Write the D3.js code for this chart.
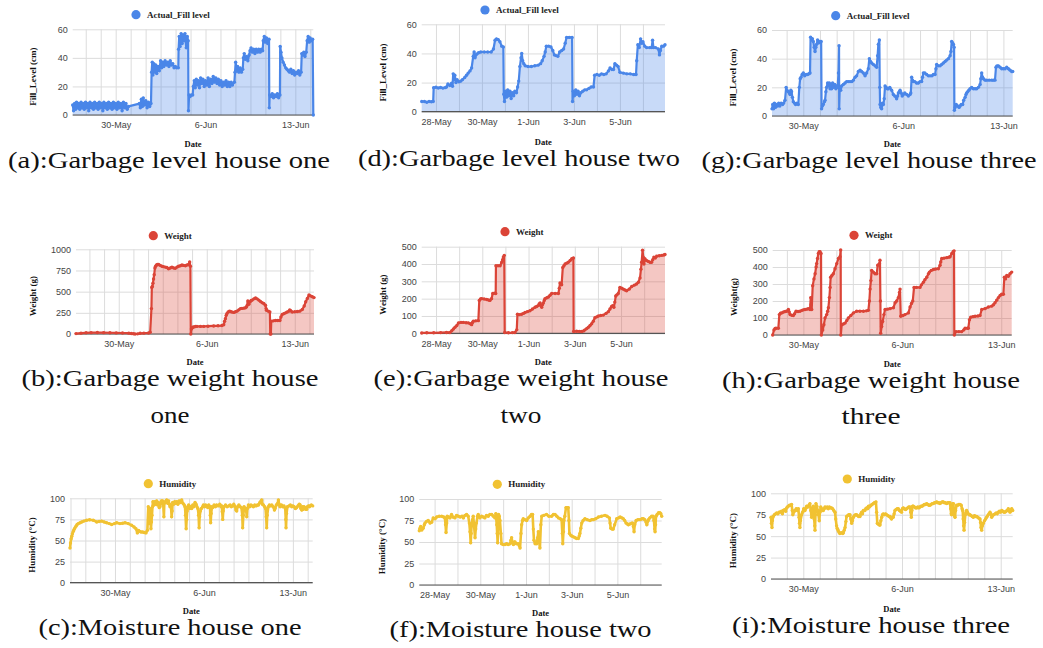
<!DOCTYPE html>
<html>
<head>
<meta charset="utf-8">
<script src="https://cdn.jsdelivr.net/npm/d3@7"></script>
<style>
  html, body { margin: 0; padding: 0; background: #fff; }
  svg { display: block; }
</style>
</head>
<body>
<svg id="fig" width="1043" height="648"></svg>
<script>
// Sensor readings per house. Each pair is [day, value], where day counts from 1 May
// (so 32 = 1 June) and may carry a fractional part for the time of day.

const fillHouse1 = [
  [26.65,7],[26.72,3],[26.8,8],[26.88,4],[26.95,9],[27.05,5],[27.12,8],[27.2,4],[27.3,9],[27.38,5],
  [27.47,8],[27.55,4],[27.65,9],[27.73,5],[27.82,8],[27.9,3],[28.0,9],[28.1,5],[28.18,8],[28.27,4],
  [28.36,9],[28.45,5],[28.55,8],[28.63,4],[28.72,9],[28.8,5],[28.9,8],[29.0,3],[29.08,9],[29.17,5],
  [29.27,8],[29.35,4],[29.45,9],[29.55,5],[29.63,8],[29.72,4],[29.82,9],[29.9,5],[30.0,8],[30.1,4],
  [30.2,9],[30.3,5],[30.4,8],[30.5,3],[30.6,9],[30.7,5],[30.8,8],[30.9,4],[31.0,6],
  [31.85,8],[31.92,5],[32.0,11],[32.08,6],[32.15,12],[32.25,7],[32.35,10],[32.45,5],[32.55,9],[32.65,6],[32.75,8],
  [32.8,30],[32.85,37],[32.9,28],[32.97,36],[33.05,30],[33.12,35],[33.2,29],[33.3,34],[33.4,31],[33.5,38],
  [33.58,33],[33.66,37],[33.75,34],[33.85,38],[33.95,35],[34.05,37],[34.15,34],[34.25,38],[34.35,35],[34.45,36],
  [34.55,33],[34.65,34],[34.75,33],[34.88,33],[34.9,46],[34.95,55],[35.02,48],[35.1,57],[35.18,50],[35.25,56],
  [35.32,52],[35.4,57],[35.5,47],[35.58,55],[35.65,52],[35.67,3],[35.72,14],[35.8,13],[35.9,14],[36.0,14],
  [36.05,20],[36.12,24],[36.2,19],[36.28,25],[36.36,21],[36.45,24],[36.53,19],[36.62,26],[36.7,22],[36.8,25],
  [36.9,20],[37.0,24],[37.1,21],[37.2,26],[37.3,20],[37.4,25],[37.5,22],[37.6,27],[37.7,23],[37.8,26],
  [37.9,22],[38.0,25],[38.1,21],[38.2,24],[38.3,20],[38.4,23],[38.5,21],[38.6,24],[38.7,20],[38.8,23],
  [38.9,20],[39.0,23],[39.1,21],[39.25,23],[39.3,30],[39.35,37],[39.42,31],[39.5,34],[39.6,30],[39.7,33],
  [39.8,30],[39.9,32],[39.95,40],[40.02,43],[40.1,39],[40.2,41],[40.3,38],[40.4,42],[40.47,45],[40.55,47],
  [40.65,44],[40.75,46],[40.85,43],[40.95,46],[41.05,44],[41.15,46],[41.25,44],[41.35,46],[41.45,45],[41.5,52],
  [41.58,55],[41.65,51],[41.75,54],[41.85,50],[41.95,53],[41.97,5],[42.0,14],[42.1,13],[42.2,15],[42.3,12],
  [42.4,14],[42.5,13],[42.6,15],[42.7,12],[42.8,14],[42.82,48],[42.88,44],[42.95,40],[43.05,37],[43.15,35],
  [43.25,33],[43.35,32],[43.45,31],[43.55,30],[43.65,32],[43.75,29],[43.85,31],[43.95,28],[44.05,30],[44.15,29],
  [44.25,31],[44.35,28],[44.45,30],[44.5,43],[44.58,42],[44.66,44],[44.75,41],[44.85,44],[44.92,52],[45.0,55],
  [45.08,51],[45.15,54],[45.25,52],[45.35,53],[45.4,0]
];

const fillHouse2 = [
  [27.38,7],[27.5,7],[27.6,6.5],[27.7,7],[27.8,6.8],[27.88,7],[27.9,16.5],[28.0,16.8],[28.1,16.3],[28.2,16.6],
  [28.3,16.2],[28.4,16.5],[28.46,17],[28.52,19],[28.6,18],[28.68,19.5],[28.72,17.5],[28.75,26],[28.78,22],[28.82,25],
  [28.87,20],[28.92,22],[29.0,20.5],[29.08,21],[29.15,22],[29.25,23.5],[29.33,25],[29.4,26.5],[29.48,28],[29.55,30],
  [29.62,38],[29.66,41],[29.7,37],[29.77,39.5],[29.85,40.5],[29.95,41],[30.1,41],[30.25,41],[30.4,41],[30.5,43],
  [30.57,49],[30.63,50],[30.71,49.5],[30.78,48],[30.86,45],[30.93,44.5],[30.95,12],[30.98,7],[31.02,14],[31.07,10],
  [31.12,15],[31.17,11],[31.22,14],[31.27,9],[31.32,13],[31.38,11],[31.43,14],[31.5,13],[31.55,17],[31.6,21],
  [31.65,31],[31.7,37],[31.73,40],[31.77,35],[31.82,33],[31.88,31.5],[32.0,31],[32.15,31],[32.3,31.5],[32.45,32],
  [32.55,33],[32.62,35],[32.7,38],[32.75,41],[32.8,45],[32.9,45],[33.0,44.5],[33.08,42],[33.15,39],[33.22,38.5],
  [33.3,38],[33.38,41],[33.47,42],[33.55,43],[33.62,47],[33.68,51],[33.8,51],[33.92,51],[33.94,7],[33.97,14],
  [34.02,11],[34.08,15],[34.13,12],[34.18,14],[34.24,11],[34.3,13],[34.38,14],[34.47,15],[34.55,15],[34.65,16],
  [34.75,17],[34.85,17],[34.9,25],[35.0,25.5],[35.1,25],[35.2,26],[35.3,25.5],[35.4,26],[35.5,28],[35.57,30],
  [35.65,29],[35.72,29],[35.78,33],[35.85,32],[35.92,31],[36.0,27],[36.15,26.5],[36.3,26],[36.45,26],[36.6,25.5],
  [36.7,25.5],[36.73,35],[36.78,46],[36.84,44],[36.9,50],[36.95,47],[37.0,48],[37.08,45],[37.16,44],[37.3,44],
  [37.38,44],[37.42,49],[37.46,44],[37.55,44],[37.67,43],[37.72,39],[37.76,42],[37.82,45],[37.9,45],[37.96,46]
];

const fillHouse3 = [
  [27.81,5],[27.86,8],[27.92,5],[27.98,9],[28.05,6],[28.13,8],[28.2,7],[28.28,9],[28.36,7],[28.45,9],
  [28.55,8],[28.63,9],[28.72,11],[28.8,20],[28.86,18],[28.95,17],[29.02,16],[29.07,15],[29.13,18],[29.18,17],
  [29.24,13],[29.3,10],[29.38,9],[29.46,8],[29.55,9],[29.65,8],[29.72,20],[29.78,26],[29.84,27],[29.92,29],
  [30.0,30],[30.1,28],[30.2,29],[30.3,29],[30.4,29.5],[30.47,30],[30.51,55],[30.57,53],[30.63,54],[30.7,52],
  [30.76,48],[30.82,45],[30.88,48],[30.93,50],[31.0,53],[31.07,51],[31.17,52],[31.25,52],[31.28,5],[31.33,7],
  [31.4,8],[31.48,10],[31.52,11],[31.58,17],[31.63,20],[31.7,23],[31.75,21],[31.82,23],[31.87,19],[31.93,22],
  [31.98,19],[32.05,23],[32.12,20],[32.2,22],[32.28,19],[32.33,21],[32.4,20],[32.46,30],[32.5,49],[32.51,5],
  [32.55,20],[32.62,18],[32.68,21],[32.8,22],[32.92,23],[33.03,24],[33.15,24],[33.27,24],[33.4,24],[33.5,25],
  [33.62,27],[33.73,28],[33.85,31],[33.97,32],[34.08,31],[34.2,30],[34.32,28],[34.43,30],[34.55,33],[34.62,40],
  [34.7,38],[34.78,37],[34.9,36],[35.02,35],[35.13,34],[35.2,42],[35.25,50],[35.32,53],[35.35,20],[35.37,8],
  [35.42,6],[35.48,5],[35.54,9],[35.6,8],[35.66,12],[35.72,21],[35.8,20],[35.88,19],[35.95,19],[36.05,20],
  [36.18,18],[36.3,15],[36.4,14],[36.53,12],[36.6,14],[36.65,16],[36.72,17],[36.77,18],[36.85,16],[36.92,14],
  [37.0,15],[37.1,16],[37.23,15],[37.35,14],[37.47,15],[37.52,16],[37.58,27],[37.64,25],[37.7,24],[37.8,24],
  [37.92,23],[38.05,23],[38.17,24],[38.28,24],[38.34,27],[38.4,30],[38.5,30],[38.63,29],[38.75,28],[38.87,28],
  [39.0,28],[39.1,29],[39.22,29],[39.28,33],[39.33,36],[39.45,35],[39.57,35],[39.68,36],[39.8,37],[39.92,38],
  [40.03,39],[40.15,40],[40.27,42],[40.33,45],[40.38,52],[40.45,51],[40.5,50],[40.55,48],[40.57,4],[40.62,6],
  [40.7,8],[40.8,7],[40.9,6],[40.97,7],[41.05,8],[41.15,8],[41.22,11],[41.32,13],[41.38,15],[41.43,16],
  [41.5,17],[41.58,18],[41.67,19],[41.78,20],[41.9,19],[42.02,19],[42.13,19],[42.25,20],[42.37,22],[42.42,26],
  [42.48,30],[42.54,27],[42.6,26],[42.72,25],[42.83,25],[43.0,25],[43.18,25],[43.3,25],[43.41,25],[43.48,34],
  [43.55,35],[43.65,35],[43.77,34],[43.88,33],[44.0,33],[44.12,33],[44.23,34],[44.35,33],[44.47,32],[44.58,31],
  [44.65,31]
];

const weightHouse1 = [
  [26.6,5],[27.0,10],[27.4,14],[27.8,16],[28.3,17],[28.8,16],[29.3,15],[29.8,13],[30.3,12],[30.8,10],
  [31.0,6],[31.17,3],[31.3,0],[31.5,2],[31.7,8],[32.0,10],[32.37,12],[32.5,20],[32.6,300],[32.63,550],
  [32.67,560],[32.72,600],[32.77,650],[32.82,700],[32.88,780],[32.93,800],[33.0,815],[33.08,820],[33.17,820],[33.3,810],
  [33.43,800],[33.55,795],[33.7,790],[33.83,785],[33.96,770],[34.1,780],[34.23,790],[34.37,780],[34.5,775],[34.63,790],
  [34.76,800],[34.9,805],[35.03,815],[35.15,810],[35.3,805],[35.43,815],[35.56,820],[35.64,850],[35.7,800],[35.73,0],
  [35.78,60],[35.82,70],[35.9,80],[35.96,82],[36.1,88],[36.22,90],[36.5,90],[36.76,90],[37.1,92],[37.55,95],
  [37.9,97],[38.2,100],[38.35,110],[38.42,150],[38.48,180],[38.55,220],[38.6,240],[38.7,260],[38.8,268],[38.88,265],
  [39.0,260],[39.15,255],[39.28,262],[39.4,270],[39.55,285],[39.68,300],[39.8,302],[39.95,305],[40.08,310],[40.16,320],
  [40.22,340],[40.27,390],[40.31,370],[40.35,350],[40.45,380],[40.53,395],[40.61,400],[40.75,415],[40.88,425],[41.0,415],
  [41.14,400],[41.27,385],[41.4,370],[41.53,360],[41.67,340],[41.72,300],[41.75,280],[41.9,270],[42.02,260],[42.05,0],
  [42.1,0],[42.13,150],[42.3,155],[42.47,160],[42.65,160],[42.82,160],[42.9,200],[43.0,230],[43.13,240],[43.27,250],
  [43.4,260],[43.54,270],[43.6,285],[43.67,275],[43.8,260],[44.0,262],[44.2,265],[44.4,270],[44.6,290],[44.75,330],
  [44.87,380],[45.0,420],[45.13,460],[45.25,450],[45.4,440],[45.53,430]
];

const weightHouse2 = [
  [27.38,2],[27.6,3],[27.9,3],[28.2,4],[28.45,5],[28.6,5],[28.68,15],[28.75,25],[28.82,35],[28.9,45],
  [28.97,60],[29.08,63],[29.18,63],[29.3,61],[29.4,60],[29.48,55],[29.54,50],[29.58,62],[29.61,70],[29.72,72],
  [29.83,73],[29.87,190],[29.92,198],[29.97,200],[30.08,198],[30.19,195],[30.27,192],[30.33,190],[30.4,200],[30.45,230],
  [30.52,232],[30.58,230],[30.59,390],[30.68,390],[30.77,390],[30.84,410],[30.88,425],[30.91,440],[30.95,450],[30.97,5],
  [31.13,3],[31.3,4],[31.41,5],[31.49,20],[31.52,110],[31.6,108],[31.7,110],[31.78,115],[31.85,120],[31.95,125],
  [32.06,130],[32.17,140],[32.28,150],[32.35,155],[32.42,160],[32.46,170],[32.5,175],[32.53,160],[32.57,150],[32.6,165],
  [32.64,175],[32.68,190],[32.71,200],[32.79,205],[32.86,210],[32.93,220],[33.0,230],[33.15,230],[33.29,230],[33.33,260],
  [33.36,290],[33.4,285],[33.43,280],[33.48,380],[33.53,390],[33.58,400],[33.65,405],[33.72,410],[33.8,420],[33.87,430],
  [33.94,435],[33.95,10],[34.08,12],[34.2,11],[34.3,10],[34.38,14],[34.44,20],[34.52,28],[34.59,35],[34.66,45],
  [34.73,55],[34.8,70],[34.87,90],[34.95,95],[35.02,100],[35.12,103],[35.23,105],[35.35,115],[35.45,125],[35.52,140],
  [35.59,155],[35.64,160],[35.69,150],[35.73,180],[35.77,215],[35.82,222],[35.88,230],[35.95,265],[36.03,260],[36.1,255],
  [36.17,250],[36.24,245],[36.35,255],[36.46,270],[36.57,278],[36.67,285],[36.75,295],[36.82,320],[36.86,370],[36.89,410],
  [36.93,480],[36.96,440],[36.99,400],[37.03,430],[37.1,420],[37.18,415],[37.25,410],[37.32,410],[37.37,425],[37.42,440],
  [37.48,435],[37.54,445],[37.65,448],[37.76,450],[37.85,452],[37.9,455]
];

const weightHouse3 = [
  [27.83,0],[27.92,30],[28.0,38],[28.07,40],[28.23,40],[28.3,120],[28.38,128],[28.47,130],[28.6,135],[28.72,138],
  [28.82,140],[28.94,150],[29.0,135],[29.06,120],[29.18,116],[29.29,115],[29.38,125],[29.48,140],[29.62,138],[29.76,140],
  [29.9,145],[30.0,148],[30.12,150],[30.25,152],[30.35,155],[30.47,150],[30.52,220],[30.55,180],[30.59,150],[30.66,290],
  [30.75,330],[30.83,360],[30.9,400],[30.94,420],[31.0,450],[31.06,480],[31.12,490],[31.18,490],[31.25,480],[31.27,0],
  [31.37,30],[31.45,60],[31.53,100],[31.65,120],[31.72,140],[31.77,160],[31.84,220],[31.89,280],[31.93,340],[32.02,350],
  [32.12,360],[32.24,390],[32.36,420],[32.48,450],[32.59,460],[32.64,500],[32.65,0],[32.71,60],[32.83,65],[32.95,70],
  [33.07,85],[33.18,100],[33.36,115],[33.54,130],[33.77,140],[34.0,140],[34.25,140],[34.45,142],[34.6,145],[34.67,200],
  [34.72,270],[34.78,320],[34.83,380],[34.95,370],[35.07,360],[35.19,360],[35.26,410],[35.38,420],[35.42,440],[35.45,200],
  [35.47,10],[35.54,50],[35.61,80],[35.7,120],[35.78,150],[35.95,152],[36.13,155],[36.37,160],[36.49,190],[36.6,200],
  [36.72,220],[36.8,250],[36.84,270],[36.89,110],[37.05,115],[37.19,120],[37.43,130],[37.55,165],[37.65,185],[37.74,200],
  [37.83,280],[38.0,280],[38.25,280],[38.35,295],[38.49,310],[38.6,325],[38.73,340],[38.85,360],[38.92,370],[39.05,380],
  [39.2,385],[39.35,388],[39.55,390],[39.67,410],[39.72,430],[39.79,450],[39.95,452],[40.14,455],[40.3,458],[40.38,460],
  [40.5,480],[40.6,490],[40.66,495],[40.68,0],[40.8,20],[41.0,20],[41.2,20],[41.35,30],[41.44,40],[41.6,40],
  [41.67,40],[41.75,90],[41.84,105],[42.0,108],[42.15,110],[42.35,112],[42.5,115],[42.62,150],[42.85,155],[43.09,165],
  [43.33,170],[43.45,178],[43.56,190],[43.68,205],[43.8,220],[43.92,232],[44.03,240],[44.15,240],[44.22,340],[44.3,330],
  [44.39,350],[44.5,345],[44.62,360],[44.74,370]
];

const humidityHouse1 = [
  [26.46,41],[26.5,47],[26.55,52],[26.6,55],[26.65,58],[26.72,61],[26.78,63],[26.85,65],[26.93,67],[27.02,69],
  [27.11,70],[27.25,71],[27.38,72],[27.55,73],[27.77,74],[28.0,74.5],[28.29,74],[28.56,72],[28.75,72.5],[28.95,73],
  [29.15,72],[29.34,71],[29.55,70],[29.74,69],[29.95,70],[30.13,71],[30.39,70],[30.6,70.5],[30.79,71],[31.05,70],
  [31.31,68],[31.5,66],[31.65,64],[31.76,59],[31.85,62],[31.92,61],[32.05,60],[32.18,60],[32.3,59.5],[32.44,59],
  [32.55,62],[32.62,90],[32.66,75],[32.7,70],[32.74,88],[32.78,80],[32.83,64],[32.87,72],[32.91,80],[32.95,90],
  [32.99,96],[33.07,92],[33.15,96],[33.22,93],[33.28,97],[33.35,92],[33.42,95],[33.48,89],[33.54,90],[33.6,94],
  [33.66,97],[33.75,97],[33.8,92],[33.85,78],[33.88,94],[33.94,95],[34.0,97],[34.07,98],[34.15,94],[34.22,97],
  [34.28,93],[34.33,90],[34.4,92],[34.46,78],[34.5,85],[34.54,95],[34.62,93],[34.7,96],[34.78,94],[34.86,96],
  [34.95,93],[35.05,97],[35.15,95],[35.25,98],[35.35,94],[35.45,92],[35.51,90],[35.55,80],[35.6,64],[35.64,75],
  [35.68,85],[35.73,90],[35.8,92],[35.88,88],[35.95,90],[36.04,88],[36.12,92],[36.2,90],[36.3,95],[36.38,93],
  [36.45,90],[36.52,88],[36.58,80],[36.62,65],[36.66,78],[36.72,85],[36.8,88],[36.9,90],[36.96,92],[37.05,90],
  [37.13,92],[37.22,91],[37.3,89],[37.38,92],[37.48,90],[37.5,80],[37.53,71],[37.57,82],[37.63,90],[37.69,89],
  [37.8,92],[37.9,90],[38.0,92],[38.12,91],[38.25,93],[38.35,90],[38.4,91],[38.44,84],[38.48,75],[38.52,85],
  [38.58,90],[38.7,92],[38.82,90],[38.95,91],[39.06,92],[39.15,90],[39.25,91],[39.35,93],[39.45,90],[39.52,86],
  [39.58,85],[39.65,90],[39.75,92],[39.85,90],[39.95,89],[40.02,80],[40.05,65],[40.1,80],[40.16,90],[40.25,88],
  [40.33,85],[40.37,78],[40.42,88],[40.5,92],[40.6,90],[40.7,92],[40.8,91],[40.89,90],[41.0,92],[41.1,91],
  [41.2,92],[41.29,92],[41.4,95],[41.5,97],[41.55,98],[41.6,93],[41.68,92],[41.78,90],[41.85,88],[41.9,78],
  [41.94,65],[41.98,80],[42.07,90],[42.15,92],[42.25,91],[42.34,92],[42.45,90],[42.55,86],[42.6,88],[42.7,92],
  [42.8,94],[42.86,98],[42.92,93],[42.99,90],[43.1,92],[43.2,90],[43.3,91],[43.4,88],[43.44,75],[43.46,65],
  [43.5,82],[43.57,90],[43.7,91],[43.8,92],[43.91,90],[44.0,91],[44.1,90],[44.2,88],[44.3,89],[44.4,91],
  [44.5,93],[44.57,92],[44.62,88],[44.7,86],[44.76,90],[44.82,87],[44.88,90],[44.95,89],[45.02,87],[45.09,87],
  [45.15,90],[45.22,91],[45.3,90],[45.35,91],[45.45,92],[45.56,91]
];

const humidityHouse2 = [
  [27.33,63],[27.36,66],[27.39,68],[27.44,64],[27.5,66],[27.55,70],[27.58,72],[27.65,74],[27.72,75],[27.8,72],
  [27.87,73],[27.94,78],[28.02,77],[28.09,79],[28.2,80],[28.31,80],[28.4,79],[28.45,78],[28.48,70],[28.5,61],
  [28.53,72],[28.55,80],[28.62,79],[28.67,78],[28.74,82],[28.8,79],[28.89,78],[28.96,81],[29.04,80],[29.12,79],
  [29.2,80],[29.26,78],[29.33,81],[29.4,82],[29.47,80],[29.52,72],[29.55,62],[29.58,49],[29.6,60],[29.62,70],
  [29.66,76],[29.69,80],[29.73,68],[29.77,55],[29.8,65],[29.83,72],[29.88,80],[29.91,82],[29.98,78],[30.06,80],
  [30.13,79],[30.2,78],[30.27,81],[30.35,80],[30.42,82],[30.5,82],[30.57,80],[30.64,78],[30.68,83],[30.72,70],
  [30.74,60],[30.76,49],[30.78,70],[30.8,82],[30.83,80],[30.86,75],[30.9,60],[30.93,48],[31.0,47],[31.08,47],
  [31.15,48],[31.22,47],[31.3,48],[31.34,52],[31.37,55],[31.41,49],[31.45,47],[31.49,50],[31.52,50],[31.58,48],
  [31.66,48],[31.7,46],[31.74,43],[31.78,60],[31.81,70],[31.85,75],[31.88,77],[31.95,76],[32.03,75],[32.1,78],
  [32.18,80],[32.24,82],[32.29,82],[32.32,65],[32.35,52],[32.4,48],[32.47,48],[32.51,55],[32.54,62],[32.58,50],
  [32.61,43],[32.65,70],[32.69,80],[32.78,81],[32.9,82],[33.0,80],[33.12,80],[33.2,82],[33.27,82],[33.35,80],
  [33.42,78],[33.5,77],[33.56,76],[33.59,60],[33.61,48],[33.64,62],[33.66,75],[33.7,80],[33.75,90],[33.8,90],
  [33.85,90],[33.88,75],[33.9,60],[33.95,58],[34.0,57],[34.08,56],[34.15,55],[34.22,54],[34.29,54],[34.33,57],
  [34.36,60],[34.4,66],[34.44,72],[34.5,75],[34.58,77],[34.68,76],[34.8,75],[34.88,76],[34.95,76],[35.05,77],
  [35.17,79],[35.3,80],[35.46,81],[35.55,80],[35.65,78],[35.68,72],[35.71,66],[35.77,65],[35.82,65],[35.88,70],
  [35.97,77],[36.05,78],[36.12,79],[36.2,78],[36.26,77],[36.32,75],[36.38,72],[36.44,71],[36.48,70],[36.55,71],
  [36.63,72],[36.67,72],[36.7,68],[36.73,62],[36.76,70],[36.82,75],[36.9,76],[37.0,76],[37.08,77],[37.14,77],
  [37.2,76],[37.26,73],[37.29,70],[37.33,74],[37.36,76],[37.42,78],[37.5,80],[37.56,80],[37.6,75],[37.63,65],
  [37.65,62],[37.67,70],[37.69,80],[37.74,82],[37.8,84],[37.86,84],[37.9,83],[37.94,80]
];

const humidityHouse3 = [
  [27.71,72],[27.74,65],[27.78,60],[27.81,68],[27.87,73],[27.95,75],[28.03,76],[28.11,77],[28.2,76],[28.28,78],
  [28.35,78],[28.45,79],[28.52,76],[28.58,80],[28.68,81],[28.75,79],[28.82,83],[28.88,84],[28.94,85],[29.02,86],
  [29.1,86],[29.17,87],[29.22,80],[29.26,75],[29.32,78],[29.41,80],[29.5,82],[29.58,80],[29.65,82],[29.7,72],
  [29.73,65],[29.76,60],[29.8,68],[29.88,75],[29.95,78],[30.03,82],[30.12,80],[30.2,83],[30.24,85],[30.32,84],
  [30.4,86],[30.47,88],[30.53,80],[30.59,72],[30.64,80],[30.71,85],[30.77,70],[30.81,62],[30.83,57],[30.86,75],
  [30.9,88],[30.96,85],[31.02,80],[31.08,75],[31.13,68],[31.18,78],[31.24,84],[31.3,82],[31.36,80],[31.42,80],
  [31.48,82],[31.54,84],[31.62,83],[31.7,84],[31.77,82],[31.85,84],[31.92,83],[32.0,83],[32.08,82],[32.16,80],
  [32.25,78],[32.3,70],[32.36,62],[32.4,59],[32.44,58],[32.48,56],[32.55,54],[32.6,53],[32.7,54],[32.8,53],
  [32.84,54],[32.9,57],[32.96,60],[33.02,67],[33.07,73],[33.15,74],[33.22,75],[33.31,75],[33.37,70],[33.43,65],
  [33.49,68],[33.55,72],[33.62,74],[33.7,75],[33.78,75],[33.85,74],[33.92,73],[34.02,73],[34.08,76],[34.14,78],
  [34.2,76],[34.26,80],[34.37,80],[34.43,82],[34.49,83],[34.56,82],[34.62,85],[34.68,84],[34.73,85],[34.8,86],
  [34.88,87],[34.96,88],[35.04,89],[35.1,89],[35.15,90],[35.2,78],[35.25,65],[35.32,64],[35.4,63],[35.44,63],
  [35.5,68],[35.56,72],[35.62,75],[35.67,76],[35.75,75],[35.83,76],[35.91,75],[36.0,74],[36.08,73],[36.15,73],
  [36.22,71],[36.26,70],[36.32,72],[36.38,72],[36.44,76],[36.5,80],[36.58,81],[36.66,82],[36.74,82],[36.82,80],
  [36.9,79],[36.97,78],[37.03,82],[37.09,83],[37.17,82],[37.25,81],[37.33,82],[37.4,83],[37.48,84],[37.57,84],
  [37.62,78],[37.66,72],[37.7,80],[37.75,85],[37.8,85],[37.88,84],[37.96,83],[38.04,83],[38.12,84],[38.2,83],
  [38.27,84],[38.35,85],[38.43,85],[38.51,86],[38.59,87],[38.67,87],[38.75,88],[38.83,87],[38.91,86],[38.98,86],
  [39.06,87],[39.14,88],[39.22,88],[39.3,89],[39.38,89],[39.46,90],[39.54,89],[39.62,89],[39.69,88],[39.77,89],
  [39.85,90],[39.93,90],[40.0,89],[40.08,89],[40.17,88],[40.25,89],[40.33,89],[40.4,89],[40.45,82],[40.49,76],
  [40.52,75],[40.56,84],[40.6,88],[40.64,88],[40.68,80],[40.72,74],[40.76,72],[40.8,80],[40.87,86],[40.95,86],
  [41.03,87],[41.11,87],[41.2,86],[41.26,82],[41.3,80],[41.34,70],[41.37,62],[41.4,57],[41.44,66],[41.49,75],
  [41.54,78],[41.58,80],[41.64,78],[41.7,76],[41.76,75],[41.82,75],[41.9,74],[41.98,73],[42.06,72],[42.14,74],
  [42.22,73],[42.29,73],[42.37,72],[42.45,71],[42.53,70],[42.57,66],[42.6,60],[42.65,57],[42.7,62],[42.77,65],
  [42.85,68],[42.93,70],[43.0,72],[43.08,74],[43.16,76],[43.24,78],[43.3,76],[43.36,72],[43.42,74],[43.5,75],
  [43.6,76],[43.68,77],[43.75,76],[43.83,78],[43.9,79],[43.98,78],[44.07,80],[44.15,79],[44.23,78],[44.3,78],
  [44.38,79],[44.46,80],[44.54,82],[44.6,80],[44.66,78],[44.72,80],[44.78,82],[44.85,80]
];

// Axis tick labels and value ticks
const weeklyTicks = ["30-May", "6-Jun", "13-Jun"];
const twoDayTicks = ["28-May", "30-May", "1-Jun", "3-Jun", "5-Jun"];
const fillTicks = [0, 20, 40, 60];
const weightTicksHouse1 = [0, 250, 500, 750, 1000];
const weightTicksSmall = [0, 100, 200, 300, 400, 500];
const humidityTicks = [0, 25, 50, 75, 100];

// Series labels and captions
const seriesNames = { fill: "Actual_Fill level", weight: "Weight", humidity: "Humidity" };
const captions = {
  a: ["(a):Garbage level house one"],
  d: ["(d):Garbage level house two"],
  g: ["(g):Garbage level house three"],
  b: ["(b):Garbage weight house", "one"],
  e: ["(e):Garbage weight house", "two"],
  h: ["(h):Garbage weight house", "three"],
  c: ["(c):Moisture house one"],
  f: ["(f):Moisture house two"],
  i: ["(i):Moisture house three"]
};

// ---------------------------------------------------------------------------
const COLORS = { fill: "#4a86e8", weight: "#db4437", humidity: "#f1c232" };
const SHADED = { fill: true, weight: true, humidity: false };
const DAY_MS = 864e5;
const dayToDate = d => new Date(Date.UTC(2021, 4, 1) + (d - 1) * DAY_MS);
const parseTick = d3.utcParse("%d-%b-%Y");
const fmtTick = d3.utcFormat("%-d-%b");

const panels = [
  { key: "a", data: fillHouse1, kind: "fill", xt: weeklyTicks, sub: 6, yt: fillTicks, yTitle: "Fill_Level (cm)",
    plot: [72.7, 29.3, 313.3, 115], leg: [136, 14.7], yTitleX: 33, cap: { cx: 169, y: [168], w: [322] } },
  { key: "d", data: fillHouse2, kind: "fill", xt: twoDayTicks, sub: 2, yt: fillTicks, yTitle: "Fill_Level (cm)",
    plot: [421.7, 24.3, 665, 111.7], leg: [485, 10], yTitleX: 383, cap: { cx: 519, y: [166], w: [322] } },
  { key: "g", data: fillHouse3, kind: "fill", xt: weeklyTicks, sub: 6, yt: fillTicks, yTitle: "Fill_Level (cm)",
    plot: [772, 30, 1012.7, 116], leg: [835.7, 15.7], yTitleX: 733, cap: { cx: 869, y: [168], w: [335] } },
  { key: "b", data: weightHouse1, kind: "weight", xt: weeklyTicks, sub: 6, yt: weightTicksHouse1, yTitle: "Weight (g)",
    plot: [76, 249.3, 314, 334], leg: [153.3, 235.7], yTitleX: 33, cap: { cx: 170, y: [386, 423], w: [297, 39] } },
  { key: "e", data: weightHouse2, kind: "weight", xt: twoDayTicks, sub: 2, yt: weightTicksSmall, yTitle: "Weight (g)",
    plot: [421.7, 246.7, 665, 333.3], leg: [505, 231.7], yTitleX: 383.3, cap: { cx: 521, y: [385.7, 423.3], w: [295, 41] } },
  { key: "h", data: weightHouse3, kind: "weight", xt: weeklyTicks, sub: 6, yt: weightTicksSmall, yTitle: "Weight(g)",
    plot: [772.7, 250, 1011.7, 335], leg: [854, 235.3], yTitleX: 734.3, cap: { cx: 871, y: [388, 424], w: [298, 59] } },
  { key: "c", data: humidityHouse1, kind: "humidity", xt: weeklyTicks, sub: 6, yt: humidityTicks, yTitle: "Humidity (°C)",
    plot: [70, 498.3, 312.7, 582.7], leg: [148.3, 483.7], yTitleX: 32.3, cap: { cx: 170, y: [635], w: [263] } },
  { key: "f", data: humidityHouse2, kind: "humidity", xt: twoDayTicks, sub: 2, yt: humidityTicks, yTitle: "Humidity (°C)",
    plot: [419.3, 499, 661.7, 585], leg: [497.3, 484.3], yTitleX: 381.7, cap: { cx: 520.5, y: [636.7], w: [262] } },
  { key: "i", data: humidityHouse3, kind: "humidity", xt: weeklyTicks, sub: 6, yt: humidityTicks, yTitle: "Humidity (°C)",
    plot: [771, 493.3, 1012.7, 579], leg: [847.3, 479], yTitleX: 733.3, cap: { cx: 871, y: [633.3], w: [278] } }
];

const svg = d3.select("#fig");
const SERIF = "'Liberation Serif', 'Times New Roman', serif";
const SANS = "'Liberation Sans', Arial, sans-serif";

panels.forEach(p => {
  const [x0, y0, x1, y1] = p.plot;
  const color = COLORS[p.kind];
  const pts = p.data.map(d => ({ t: dayToDate(d[0]), v: d[1] }));

  const x = d3.scaleUtc().domain(d3.extent(pts, d => d.t)).range([x0, x1]);
  const y = d3.scaleLinear().domain([0, d3.max(p.yt)]).range([y1, y0]);
  const tickDates = p.xt.map(s => parseTick(s + "-2021"));

  const g = svg.append("g").attr("class", "panel-" + p.key);

  // vertical gridlines: every labelled date plus evenly spaced minor lines
  const step = (tickDates[1] - tickDates[0]) / p.sub;
  const [dStart, dEnd] = x.domain();
  const gridDates = [];
  for (let t = +tickDates[0]; t >= +dStart; t -= step) gridDates.push(new Date(t));
  for (let t = +tickDates[0] + step; t <= +dEnd; t += step) gridDates.push(new Date(t));

  g.append("g")
    .attr("transform", `translate(0,${y1})`)
    .call(d3.axisBottom(x).tickValues(gridDates).tickSize(-(y1 - y0)).tickFormat(""))
    .call(a => a.select(".domain").remove())
    .call(a => a.selectAll("line").attr("stroke", "#dcdcdc").attr("stroke-width", 1));

  // horizontal gridlines
  g.append("g")
    .attr("transform", `translate(${x0},0)`)
    .call(d3.axisLeft(y).tickValues(p.yt).tickSize(-(x1 - x0)).tickFormat(""))
    .call(a => a.select(".domain").remove())
    .call(a => a.selectAll("line").attr("stroke", "#dcdcdc").attr("stroke-width", 1));

  // shaded area under the series (fill level and weight only)
  if (SHADED[p.kind]) {
    const area = d3.area().x(d => x(d.t)).y0(y(0)).y1(d => y(d.v));
    g.append("path").datum(pts).attr("d", area)
      .attr("fill", color).attr("fill-opacity", 0.3);
  }

  // zero baseline
  g.append("line").attr("x1", x0).attr("x2", x1).attr("y1", y(0)).attr("y2", y(0))
    .attr("stroke", "#555").attr("stroke-width", 1.2);

  const line = d3.line().x(d => x(d.t)).y(d => y(d.v));
  g.append("path").datum(pts).attr("d", line)
    .attr("fill", "none").attr("stroke", color)
    .attr("stroke-width", p.kind === "humidity" ? 2.6 : 2.2)
    .attr("stroke-linejoin", "round");

  g.append("g").selectAll("circle").data(pts).join("circle")
    .attr("cx", d => x(d.t)).attr("cy", d => y(d.v)).attr("r", 1.7)
    .attr("fill", color);

  // axis labels
  g.append("g")
    .attr("transform", `translate(0,${y1})`)
    .call(d3.axisBottom(x).tickValues(tickDates).tickFormat(fmtTick).tickSize(0).tickPadding(7))
    .call(a => a.select(".domain").remove())
    .call(a => a.selectAll("text").attr("font-family", SANS).attr("font-size", 9).attr("fill", "#444"));

  g.append("g")
    .attr("transform", `translate(${x0},0)`)
    .call(d3.axisLeft(y).tickValues(p.yt).tickFormat(d3.format("d")).tickSize(0).tickPadding(5))
    .call(a => a.select(".domain").remove())
    .call(a => a.selectAll("text").attr("font-family", SANS).attr("font-size", 9).attr("fill", "#444"));

  // legend
  g.append("circle").attr("cx", p.leg[0]).attr("cy", p.leg[1]).attr("r", 4.6).attr("fill", color);
  g.append("text").attr("x", p.leg[0] + 11).attr("y", p.leg[1] + 3)
    .attr("font-family", SERIF).attr("font-weight", "bold").attr("font-size", 9).attr("fill", "#222")
    .text(seriesNames[p.kind]);

  // axis titles
  const yMid = (y0 + y1) / 2 + 4.5;
  g.append("text")
    .attr("transform", `translate(${p.yTitleX + 3},${yMid}) rotate(-90)`)
    .attr("text-anchor", "middle")
    .attr("font-family", SERIF).attr("font-weight", "bold").attr("font-size", 9).attr("fill", "#111")
    .text(p.yTitle);

  // x-axis title, kept just above the caption beneath it
  g.append("text")
    .attr("x", (x0 + x1) / 2).attr("y", p.cap.y[0] - 21)
    .attr("text-anchor", "middle")
    .attr("font-family", SERIF).attr("font-weight", "bold").attr("font-size", 8.5).attr("fill", "#111")
    .text("Date");

  // caption
  captions[p.key].forEach((line, i) => {
    g.append("text")
      .attr("x", p.cap.cx - p.cap.w[i] / 2).attr("y", p.cap.y[i])
      .attr("textLength", p.cap.w[i]).attr("lengthAdjust", "spacingAndGlyphs")
      .attr("font-family", SERIF).attr("font-size", 23).attr("fill", "#111")
      .text(line);
  });
});
</script>
</body>
</html>
